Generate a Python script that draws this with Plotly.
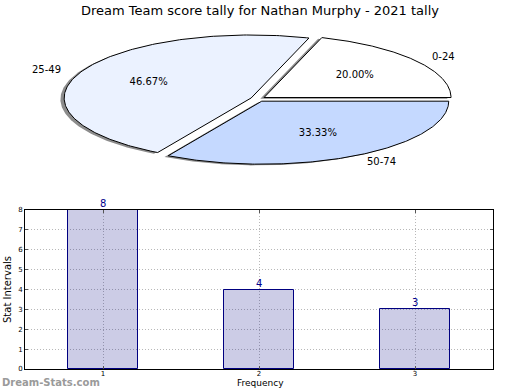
import numpy as np
import plotly.graph_objects as go

# ---------------- data ----------------
title_text = "Dream Team score tally for Nathan Murphy - 2021 tally"
pie_labels = ["0-24", "25-49", "50-74"]
pie_values = [3, 7, 5]
pie_colors = ["#ffffff", "#ebf2ff", "#c5d9ff"]

bar_x = [1, 2, 3]
bar_y = [8, 4, 3]
bar_ticks = ["1", "2", "3"]
y_ticks = [0, 1, 2, 3, 4, 5, 6, 7, 8]
x_title = "Frequency"
y_title = "Stat Intervals"
watermark = "Dream-Stats.com"

# ---------------- styling constants ----------------
FONT = "DejaVu Sans"
EXPLODE = 0.04
SHADOW = (-0.02, -0.02)
W, H = 520, 390

fig = go.Figure()

# ---------- pie drawn as elliptical wedges on a cartesian axis ----------
total = float(sum(pie_values))
fracs = [v / total for v in pie_values]
wedges = []
start = 0.0
for lab, frac, col in zip(pie_labels, fracs, pie_colors):
    t1 = start
    t2 = start + 360.0 * frac
    mid = np.deg2rad((t1 + t2) / 2)
    ox, oy = EXPLODE * np.cos(mid), EXPLODE * np.sin(mid)
    th = np.deg2rad(np.linspace(t1, t2, 200))
    xs = np.concatenate([[0], np.cos(th), [0]]) + ox
    ys = np.concatenate([[0], np.sin(th), [0]]) + oy
    wedges.append((lab, frac, col, xs, ys, mid, ox, oy))
    start = t2

# shadows first (below all wedges)
for lab, frac, col, xs, ys, mid, ox, oy in wedges:
    fig.add_trace(go.Scatter(x=xs + SHADOW[0], y=ys + SHADOW[1], mode="lines",
                             fill="toself", fillcolor="#8c8c8c",
                             line=dict(width=0), hoverinfo="skip",
                             showlegend=False, xaxis="x2", yaxis="y2"))
for lab, frac, col, xs, ys, mid, ox, oy in wedges:
    fig.add_trace(go.Scatter(x=xs, y=ys, mode="lines", fill="toself",
                             fillcolor=col, line=dict(color="black", width=1),
                             hoverinfo="skip", showlegend=False,
                             xaxis="x2", yaxis="y2"))

# pct texts and labels
pct_x = [w[6] + 0.6 * np.cos(w[5]) for w in wedges]
pct_y = [w[7] + 0.6 * np.sin(w[5]) for w in wedges]
fig.add_trace(go.Scatter(x=pct_x, y=pct_y, mode="text",
                         text=["%.2f%%" % (100 * f) for f in fracs],
                         textfont=dict(family=FONT, size=10, color="black"),
                         hoverinfo="skip", showlegend=False,
                         xaxis="x2", yaxis="y2"))
for lab, frac, col, xs, ys, mid, ox, oy in wedges:
    lx = ox + 1.1 * np.cos(mid)
    ly = oy + 1.1 * np.sin(mid)
    fig.add_annotation(x=lx, y=ly, xref="x2", yref="y2", text=lab,
                       showarrow=False, xanchor="left" if lx > 0 else "right",
                       yanchor="middle",
                       font=dict(family=FONT, size=10, color="black"))

# ---------- bar chart ----------
fig.add_trace(go.Bar(x=bar_x, y=bar_y, width=0.45,
                     marker=dict(color="rgba(0,0,128,0.2)",
                                 line=dict(color="#000080", width=1)),
                     hoverinfo="skip", showlegend=False))
for bx, by in zip(bar_x, bar_y):
    fig.add_annotation(x=bx, y=by, xref="x", yref="y", text=str(by),
                       showarrow=False, xanchor="center", yanchor="bottom",
                       yshift=-1,
                       font=dict(family=FONT, size=10, color="#00008b"))

# pie axis geometry (pixel scale -> unit ranges)
cx_px, cy_px, rx_px, ry_px = 258.0, 99.0, 187.0, 63.0
pie_h_px = 195.0

grid = dict(showgrid=True, gridcolor="#b8b8b8", griddash="1px,2px", gridwidth=1,
            showline=True, linecolor="black", linewidth=1, mirror="allticks",
            ticks="inside", ticklen=3, tickcolor="#555555",
            tickfont=dict(family=FONT, size=7, color="black"),
            zeroline=False, automargin=False)

fig.update_layout(
    width=W, height=H,
    margin=dict(l=0, r=0, t=0, b=0, autoexpand=False),
    paper_bgcolor="white", plot_bgcolor="white",
    font=dict(family=FONT, color="black"),
    title=dict(text=title_text, x=0.5, xanchor="center", y=1 - 10 / H,
               yanchor="middle", font=dict(family=FONT, size=13, color="black")),
    xaxis2=dict(domain=[0, 1], range=[-cx_px / rx_px, (W - cx_px) / rx_px],
                visible=False, anchor="y2", automargin=False),
    yaxis2=dict(domain=[1 - pie_h_px / H, 1],
                range=[-(pie_h_px - cy_px) / ry_px, cy_px / ry_px],
                visible=False, anchor="x2", automargin=False),
    xaxis=dict(domain=[25 / W, 493 / W], range=[0.5, 3.5],
               tickvals=bar_x, ticktext=bar_ticks, ticklabelstandoff=-2, **grid),
    yaxis=dict(domain=[1 - 369 / H, 1 - 210 / H], range=[0, 8],
               tickvals=y_ticks, **grid,
               title=dict(text=y_title, standoff=4,
                          font=dict(family=FONT, size=10, color="black"))),
    bargap=0,
)

fig.add_annotation(x=0.5, y=0, xref="paper", yref="paper", text=x_title,
                   showarrow=False, xanchor="center", yanchor="bottom",
                   font=dict(family=FONT, size=9, color="black"))

fig.add_annotation(x=0, y=1 - 382 / H, xref="paper", yref="paper",
                   text="<b>" + watermark + "</b>", showarrow=False,
                   xanchor="left", yanchor="middle",
                   font=dict(family=FONT, size=10, color="#9a9a9a"))

fig.write_html("out.html", config={"displayModeBar": False},
               post_script="document.body.style.margin='0';")
